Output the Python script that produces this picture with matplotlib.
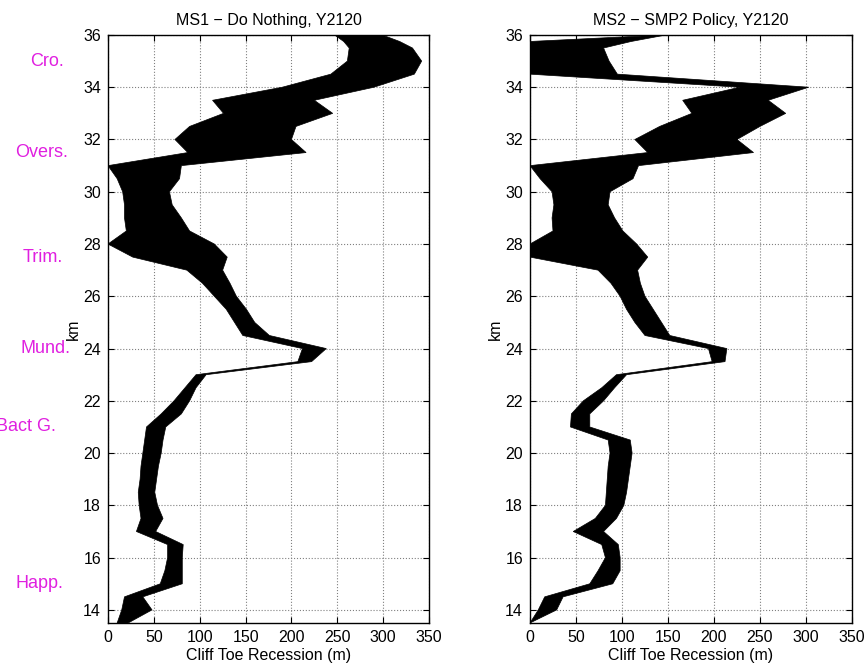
import matplotlib
matplotlib.use('Agg')
import matplotlib.pyplot as plt
import numpy as np

plt.rcParams['font.family'] = ['Liberation Sans', 'DejaVu Sans']
plt.rcParams['font.size'] = 11.5

# chainage along the coast (km), north to south
km = [36, 35.75, 35.5, 35, 34.5, 34, 33.5, 33, 32.5, 32, 31.5, 31, 30.5, 30,
      29.5, 29, 28.5, 28, 27.5, 27, 26.5, 26, 25.5, 25, 24.5, 24, 23.5, 23,
      22.5, 22, 21.5, 21, 20.5, 20, 19.5, 19, 18.5, 18, 17.5, 17, 16.5, 16,
      15.5, 15, 14.5, 14, 13.5]

# MS1 - do nothing: lower / upper cliff toe recession (m)
ms1_low = [247, 257, 263, 261, 243, 190, 114, 126, 89, 73, 87, 0, 10, 16,
           18, 18, 20, 0, 27, 86, 103, 116, 129, 138, 147, 212, 207, 96,
           84, 72, 58, 42, 40, 38, 36, 35, 33, 34, 36, 31, 65, 65,
           62, 57, 18, 15, 10]
ms1_high = [299, 318, 332, 342, 334, 290, 225, 245, 205, 200, 216, 80, 78, 67,
            70, 80, 89, 116, 130, 125, 133, 140, 151, 160, 176, 238, 222, 107,
            96, 89, 80, 63, 60, 58, 55, 53, 51, 54, 60, 52, 82, 81,
            81, 81, 38, 48, 22]

# MS2 - SMP2 policy
ms2_low = [145, 0, 0, 0, 0, 228, 166, 176, 141, 114, 128, 0, 11, 24,
           26, 24, 25, 0, 0, 74, 88, 98, 105, 114, 125, 194, 198, 94,
           78, 58, 45, 44, 85, 87, 85, 84, 83, 82, 71, 47, 78, 82,
           74, 65, 16, 9, 0]
ms2_high = [148, 110, 80, 86, 95, 303, 259, 278, 250, 225, 243, 118, 112, 87,
            85, 92, 101, 116, 128, 117, 120, 125, 134, 143, 152, 214, 212, 105,
            92, 80, 65, 65, 109, 111, 109, 107, 105, 102, 94, 80, 96, 98,
            98, 90, 36, 29, 0]

# towns marked alongside the first panel
towns = ['Cro.', 'Overs.', 'Trim.', 'Mund.', 'Bact G.', 'Happ.']
town_km = [35, 31.5, 27.5, 24, 21, 15]
town_x = [-67, -72, -71, -68, -89, -75]

fig = plt.figure(figsize=(8.66, 6.67), dpi=100)
ax1 = fig.add_axes([0.1247, 0.066, 0.3707, 0.8816])
ax2 = fig.add_axes([0.612, 0.066, 0.3718, 0.8816])

panels = [(ax1, ms1_low, ms1_high, 'MS1 \u2212 Do Nothing, Y2120'),
          (ax2, ms2_low, ms2_high, 'MS2 \u2212 SMP2 Policy, Y2120')]

for ax, low, high, title in panels:
    xs = np.concatenate([low, high[::-1]])
    ys = np.concatenate([km, km[::-1]])
    ax.fill(xs, ys, color='k', edgecolor='k', linewidth=0.5, zorder=3)
    ax.set_xlim(0, 350)
    ax.set_ylim(13.5, 36)
    ax.set_xticks(np.arange(0, 351, 50))
    ax.set_yticks(np.arange(14, 37, 2))
    ax.grid(True, linestyle=':', color='0.5', linewidth=0.8, zorder=0)
    ax.tick_params(direction='in', top=True, right=True, length=4,
                   width=0.8, pad=5)
    for s in ax.spines.values():
        s.set_linewidth(1.0)
    ax.set_title(title, fontsize=11.5, pad=7)
    ax.set_xlabel('Cliff Toe Recession (m)', labelpad=2)
    ax.set_ylabel('km', labelpad=2)

for name, k, x in zip(towns, town_km, town_x):
    ax1.text(x, k, name, color='#e020e0', ha='center', va='center',
             fontsize=13, clip_on=False)

fig.savefig('out.png', dpi=100)
